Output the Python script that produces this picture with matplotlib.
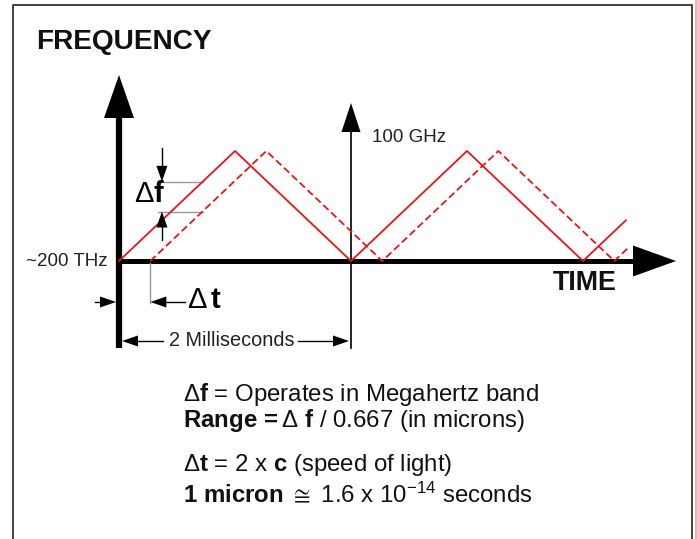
import matplotlib
matplotlib.use("Agg")
import matplotlib.pyplot as plt
from matplotlib.transforms import Affine2D
from matplotlib.patches import Polygon

plt.rcParams['font.family'] = ['Liberation Sans', 'DejaVu Sans']
plt.rcParams['mathtext.fontset'] = 'custom'
plt.rcParams['mathtext.rm'] = 'Liberation Sans'
plt.rcParams['mathtext.bf'] = 'Liberation Sans:bold'
plt.rcParams['mathtext.it'] = 'Liberation Sans:italic'
plt.rcParams['mathtext.fallback'] = 'stix'

# chirp data: time in ms, frequency as fraction of the 100 GHz sweep
period_ms = 2.0
delay_ms = 0.27
t_sent = [0, 1, 2, 3, 4, 4.37]
f_sent = [0, 1, 0, 1, 0, 0.37]
t_echo = [0.27, 1.27, 2.27, 3.27, 4.27, 4.40]
f_echo = [0, 1, 0, 1, 0, 0.13]

W, H = 697, 539
fig = plt.figure(figsize=(W / 100, H / 100), dpi=100)
ax = fig.add_axes([0, 0, 1, 1])
ax.set_xlim(0, W)
ax.set_ylim(H, 0)
ax.axis('off')

# data (ms, sweep) -> picture pixels
to_px = Affine2D().scale(116, -110).translate(119, 261)
data_tr = to_px + ax.transData


def px(t, f):
    return to_px.transform((t, f))


def head(tip, direction, length=16, width=11, color='black'):
    x, y = tip
    dx, dy = direction
    nx, ny = -dy, dx
    base = (x - dx * length, y - dy * length)
    pts = [tip,
           (base[0] + nx * width / 2, base[1] + ny * width / 2),
           (base[0] - nx * width / 2, base[1] - ny * width / 2)]
    ax.add_patch(Polygon(pts, closed=True, color=color, lw=0, zorder=5))


# frame
ax.plot([13, 13, 692, 692], [H + 5, 5, 5, H + 5], color='#333333', lw=1.3)
ax.plot([695.5, 695.5], [0, H], color='#e8a8a8', lw=1.2)

ox, oy = px(0, 0)

# main frequency axis (thick)
ax.plot([ox, ox], [oy + 87, 118], color='black', lw=4.5, solid_capstyle='butt')
ax.add_patch(Polygon([(ox - 15, 118), (ox + 15, 118), (ox, 75)], color='black', lw=0))

# time axis (thick)
ax.plot([ox - 3, 633], [oy, oy], color='black', lw=3.6, solid_capstyle='butt')
ax.add_patch(Polygon([(633, oy - 15.5), (633, oy + 15.5), (676, oy)], color='black', lw=0))

# second period axis (thin)
px2, _ = px(period_ms, 0)
ax.plot([px2, px2], [oy + 87, 130], color='black', lw=1.2)
ax.add_patch(Polygon([(px2 - 9.5, 132), (px2 + 9.5, 132), (px2, 103)], color='black', lw=0))

# chirp signals
ax.plot(t_sent, f_sent, color='#e8141b', lw=1.3, transform=data_tr, zorder=4)
ax.plot(t_echo, f_echo, color='#e8141b', lw=1.3, ls=(0, (4, 2)), transform=data_tr, zorder=4)

# delta f marker
tm = 0.72
xa, _ = px(0.37, 0)
_, yhi = px(tm, tm)
_, ylo = px(tm, tm - delay_ms)
xm, _ = px(tm, 0)
ax.plot([xa - 4, xm], [yhi, yhi], color='#999999', lw=1)
ax.plot([xa - 4, xm], [ylo, ylo], color='#999999', lw=1)
ax.plot([xa, xa], [yhi - 34, yhi - 14], color='black', lw=1)
head((xa, yhi), (0, 1))
ax.plot([xa, xa], [ylo + 14, ylo + 28], color='black', lw=1)
head((xa, ylo), (0, -1))
ax.text(134, 194, 'Δ$\\mathbf{f}$', fontsize=21, ha='left', va='center')

# delta t marker
xd, _ = px(delay_ms, 0)
yd = 302
ax.plot([xd, xd], [oy + 2, yd + 1], color='#999999', lw=1)
ax.plot([95, ox - 15], [yd, yd], color='black', lw=1)
head((ox - 3, yd), (1, 0))
ax.plot([xd + 14, 185], [yd, yd], color='black', lw=1)
head((xd, yd), (-1, 0))
ax.text(187, 300, 'Δ$\\,\\mathbf{t}$', fontsize=21, ha='left', va='center')

# 2 ms dimension
ym = 341
ax.plot([ox + 16, 163], [ym, ym], color='black', lw=1)
head((ox + 3, ym), (-1, 0))
ax.plot([298, px2 - 16], [ym, ym], color='black', lw=1)
head((px2 - 2, ym), (1, 0))
ax.text(232, ym, '2 Milliseconds', fontsize=14.3, ha='center', va='center', color='#222222')

# labels
ax.text(36, 42, 'FREQUENCY', fontsize=20.2, fontweight='bold', ha='left', va='center', color='#111111')
ax.text(585, 283, 'TIME', fontsize=19.4, fontweight='bold', ha='center', va='center', color='#111111')
ax.text(372, 137, '100 GHz', fontsize=13.5, ha='left', va='center', color='#222222')
ax.text(107, 262, '~200 THz', fontsize=13.5, ha='right', va='center', color='#222222')

# notes
notes = [
    (395, 'Δ$\\mathbf{f}$ = Operates in Megahertz band'),
    (420, '$\\mathbf{Range}\\,\\mathbf{{=}}$Δ $\\mathbf{f}$ / 0.667 (in microns)'),
    (465, 'Δ$\\mathbf{t}$ = 2 x $\\mathbf{c}$ (speed of light)'),
    (495, '$\\mathbf{1\\ micron}$ $\\cong$ 1.6 x 10$^{-14}$ seconds'),
]
for y, s in notes:
    ax.text(183, y, s, fontsize=17.3, ha='left', va='center', color='#111111')

fig.savefig('out.png', dpi=100)
